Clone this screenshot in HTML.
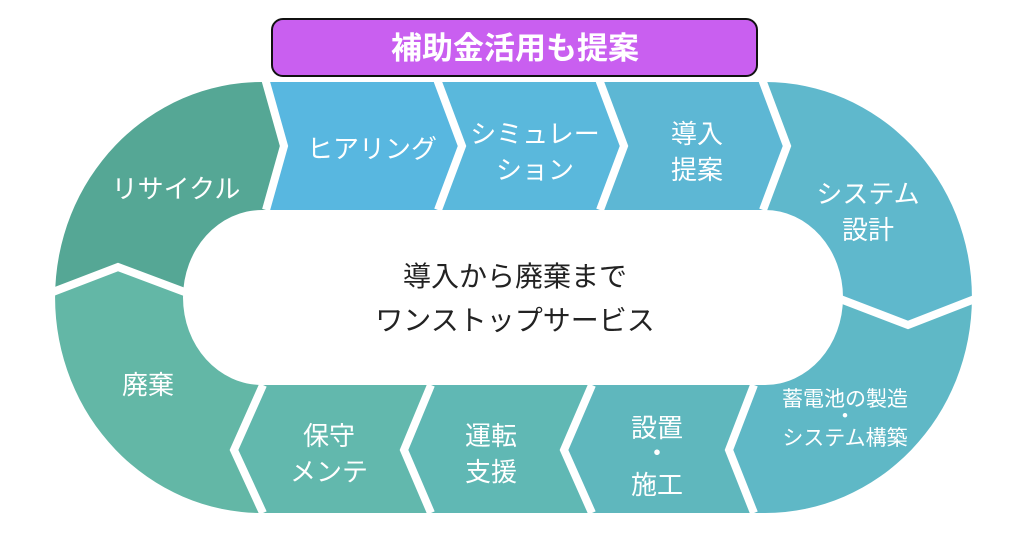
<!DOCTYPE html>
<html><head><meta charset="utf-8"><style>
html,body{margin:0;padding:0;background:#fff;}
svg{display:block;}
text{font-family:"Liberation Sans","Noto Sans CJK JP",sans-serif;}
</style></head><body>
<svg width="1024" height="537" viewBox="0 0 1024 537" xmlns="http://www.w3.org/2000/svg">
<defs>
<clipPath id="ring">
<path clip-rule="evenodd" d="M262,82 H765 A207,215.5 0 0 1 765,513 H262 A207,215.5 0 0 1 262,82 Z M262,210 H765 A78,87.5 0 0 1 765,385 H262 A79,87.5 0 0 1 262,210 Z"/>
</clipPath>
</defs>
<g clip-path="url(#ring)">
<polygon fill="#55a795" points="0,0 266,0 266,82 284,146 266,210 183,291 118,267 55,291 0,291"/>
<polygon fill="#63b7a6" points="0,291 55,291 118,267 183,291 263,385 234,450 263,513 263,540 0,540"/>
<polygon fill="#58b7e0" points="266,60 438,60 438,82 462,146 438,210 266,210 284,146 266,82"/>
<polygon fill="#5ab8dc" points="438,60 600,60 600,82 624,146 600,210 438,210 462,146 438,82"/>
<polygon fill="#5db7d4" points="600,60 763,60 763,82 787,146 763,210 600,210 624,146 600,82"/>
<polygon fill="#5fb8cc" points="763,60 1024,60 1024,295 985,295 908,325 835,297 763,210 787,146 763,82"/>
<polygon fill="#5fb8c6" points="835,297 908,325 985,295 1024,295 1024,540 754,540 754,513 729,450 754,385 760,297"/>
<polygon fill="#5fb7bd" points="592,385 754,385 729,450 754,513 592,513 564,450"/>
<polygon fill="#60b8b4" points="431,385 592,385 564,450 592,513 431,513 404,450"/>
<polygon fill="#62b8ad" points="263,385 431,385 404,450 431,513 263,513 234,450"/>
</g>
<g fill="none" stroke="#fff" stroke-width="8">
<polyline points="262,68 266,82 284,146 266,210"/>
<polyline points="434,68 438,82 462,146 438,210"/>
<polyline points="596,68 600,82 624,146 600,210"/>
<polyline points="759,68 763,82 787,146 763,210"/>
<polyline points="835,297 908,325 985,295"/>
<polyline points="754,385 729,450 754,513"/>
<polyline points="592,385 564,450 592,513"/>
<polyline points="431,385 404,450 431,513"/>
<polyline points="263,385 234,450 263,513"/>
<polyline points="190,294 118,267 45,295"/>
</g>
<rect x="272" y="19" width="485" height="57" rx="11" fill="#c95ff0" stroke="#111" stroke-width="2"/>
<text x="515" y="59" font-size="31" font-weight="bold" fill="#fff" text-anchor="middle">補助金活用も提案</text>
<g fill="#fff" font-size="26" text-anchor="middle">
<text x="176" y="198">リサイクル</text>
<text x="372" y="158">ヒアリング</text>
<text x="535" y="143">シミュレー</text>
<text x="535" y="179">ション</text>
<text x="697" y="143">導入</text>
<text x="697" y="179">提案</text>
<text x="868" y="203">システム</text>
<text x="868" y="239">設計</text>
<text x="845" y="406" font-size="21">蓄電池の製造</text>
<text x="845" y="423" font-size="21">・</text>
<text x="845" y="445" font-size="21">システム構築</text>
<text x="657" y="437">設置</text>
<text x="657" y="462">・</text>
<text x="657" y="494">施工</text>
<text x="491" y="445">運転</text>
<text x="491" y="481">支援</text>
<text x="329" y="445">保守</text>
<text x="329" y="481">メンテ</text>
<text x="148" y="394">廃棄</text>
</g>
<g fill="#222" font-size="28" text-anchor="middle">
<text x="515" y="286">導入から廃棄まで</text>
<text x="515" y="330">ワンストップサービス</text>
</g>
</svg>
</body></html>
